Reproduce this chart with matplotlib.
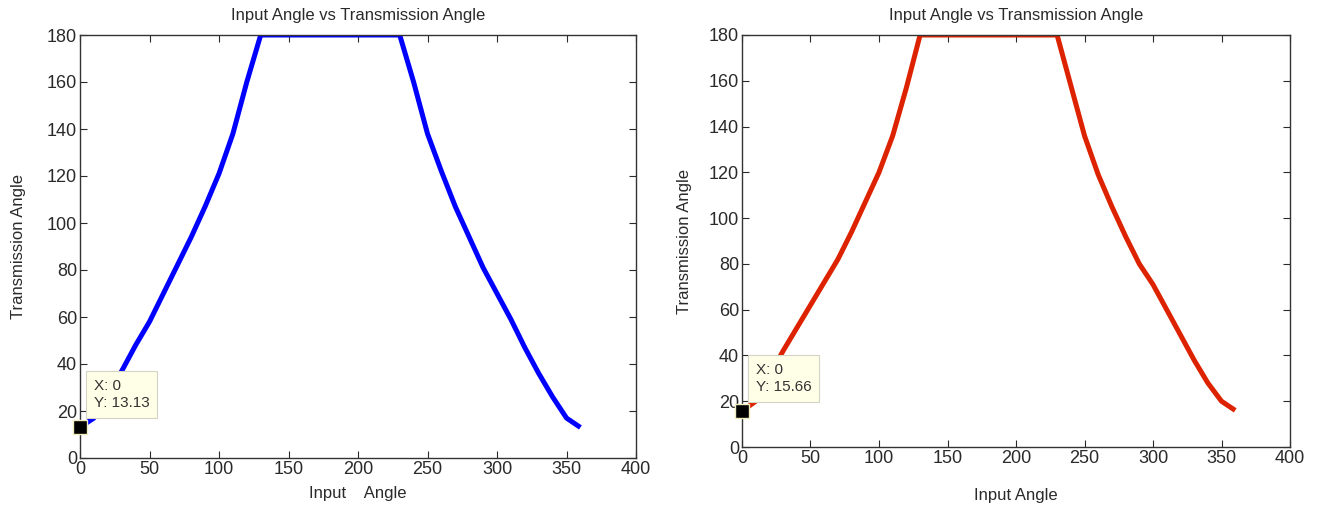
import matplotlib
matplotlib.use("Agg")
import matplotlib.pyplot as plt

plt.rcParams['font.family'] = ['Liberation Sans Narrow', 'Liberation Sans', 'DejaVu Sans']

# Input angle (deg), sampled every 10 degrees
input_angle = list(range(0, 370, 10))

# Transmission angle
trans_blue = [13.13, 17, 27, 37, 48, 58, 70, 82, 94, 107, 121, 138, 160, 180,
              180, 180, 180, 180, 180, 180, 180, 180, 180, 180,
              160, 138, 122, 107, 94, 81, 70, 59, 47, 36, 26, 17, 13]
trans_red = [15.66, 20, 31, 42, 52, 62, 72, 82, 94, 107, 120, 136, 157, 180,
             180, 180, 180, 180, 180, 180, 180, 180, 180, 180,
             158, 136, 119, 105, 92, 80, 71, 60, 49, 38, 28, 20, 16]

panels = [
    (trans_blue, '#0000FF', 'Input    Angle', [80 / 1319, 1 - 458 / 508, 556 / 1319, 423 / 508], 6, 15),
    (trans_red, '#DD2200', 'Input Angle', [742 / 1319, 1 - 447 / 508, 548 / 1319, 412 / 508], 15, 12),
]

fig = plt.figure(figsize=(13.19, 5.08), dpi=100)

for yvals, color, xlabel, rect, xpad, ypad in panels:
    ax = fig.add_axes(rect)
    ax.plot(input_angle, yvals, color=color, lw=3.6, solid_capstyle='butt', zorder=2)
    ax.set_xlim(0, 400)
    ax.set_ylim(0, 180)
    ax.set_xticks(range(0, 401, 50))
    ax.set_yticks(range(0, 181, 20))
    ax.tick_params(direction='in', top=True, right=True, length=5, width=0.8,
                   labelsize=13, colors='#2a2a2a', pad=2)
    for s in ax.spines.values():
        s.set_color('#333333')
        s.set_linewidth(1.0)
    ax.set_title('Input Angle vs Transmission Angle', fontsize=12, color='#2a2a2a', pad=11)
    ax.set_xlabel(xlabel, fontsize=12, color='#2a2a2a', labelpad=xpad)
    ax.set_ylabel('Transmission Angle', fontsize=12, color='#2a2a2a', labelpad=ypad)

    # data tip at the first point
    ax.plot(input_angle[0], yvals[0], marker='s', ms=10, color='black',
            mec='#f2edc0', mew=1, clip_on=False, zorder=5)
    ax.annotate('X: 0\nY: %.2f' % yvals[0], xy=(input_angle[0], yvals[0]),
                xytext=(14, 17), textcoords='offset pixels', ha='left', va='bottom',
                fontsize=11, color='#333333', linespacing=1.3, zorder=4,
                bbox=dict(boxstyle='square,pad=0.5', fc='#FFFFE8', ec='#d4d4c4', lw=0.8))

fig.savefig('out.png', dpi=100)
